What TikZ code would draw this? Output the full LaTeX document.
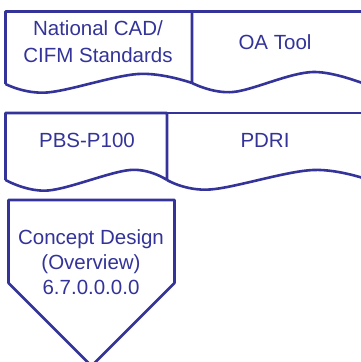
\documentclass[tikz,border=0pt]{standalone}
\usepackage{fontspec}
\setmainfont{Liberation Sans}
\definecolor{navy}{RGB}{51,51,153}
\begin{document}
\begin{tikzpicture}[x=1pt,y=-1pt,
  shapeline/.style={draw=navy,line width=2.6pt,line join=round},
  lbl/.style={text=navy,align=center,inner sep=0pt,font=\fontsize{20.5}{27}\selectfont},
  lblp/.style={text=navy,align=center,inner sep=0pt,font=\fontsize{20.5}{25}\selectfont}]
\useasboundingbox (0,0) rectangle (361,362);
\clip (0,0) rectangle (361,362);
% top row
\draw[shapeline] (192,83) -- (192,11.5) -- (5.5,11.5) -- (5.5,84)
  plot[smooth,tension=0.6] coordinates {(5.5,84) (47,92.5) (138,74) (192,83)};
\draw[shapeline] (192,11.5) -- (375,11.5);
\draw[shapeline] plot[smooth,tension=0.6] coordinates {(192,83) (233,92) (313,72) (375,88)};
\node[lbl] (cad) at (98,41.5) {National CAD/\\CIFM Standards};
\node[lbl] (oa) at (275,42) {OA Tool};
% second row
\draw[shapeline] (167,180) -- (167,113) -- (5.5,113) -- (5.5,180)
  plot[smooth,tension=0.6] coordinates {(5.5,180) (48,190.5) (130,170) (167,180)};
\draw[shapeline] (167,113) -- (375,113);
\draw[shapeline] plot[smooth,tension=0.6] coordinates {(167,180) (210,189.5) (313,170) (375,182)};
\node[lbl] (pbs) at (87,140.5) {PBS-P100};
\node[lbl] (pdri) at (265,140.5) {PDRI};
% pentagon
\draw[shapeline] (8.5,200) -- (174.5,200) -- (174.5,283) -- (91.5,366) -- (8.5,283) -- cycle;
\node[lblp] (cd) at (91,262) {Concept Design\\(Overview)\\6.7.0.0.0.0};
\end{tikzpicture}
\end{document}
